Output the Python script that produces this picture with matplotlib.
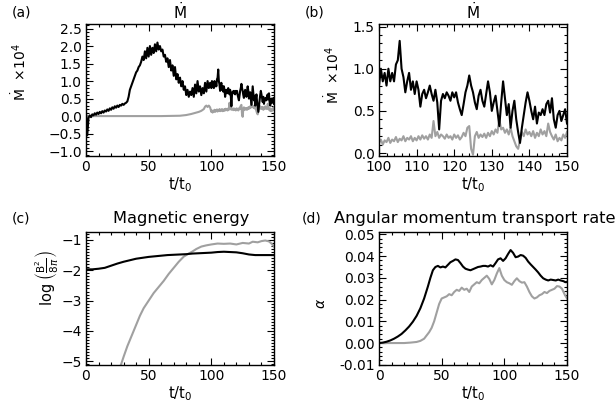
import numpy as np
import matplotlib
matplotlib.use('Agg')
import matplotlib.pyplot as plt
from matplotlib.ticker import MultipleLocator

# ---- accretion rate, t = 0..99 (black) ----
t_mdot_early = np.arange(0, 100, 1.0)
mdot_black_early = [0.10, -0.55, -0.05, 0.02, -0.03, 0.05, 0.02, 0.08, 0.04, 0.10,
                    0.06, 0.12, 0.08, 0.14, 0.10, 0.16, 0.13, 0.19, 0.15, 0.22,
                    0.18, 0.25, 0.21, 0.28, 0.24, 0.30, 0.26, 0.32, 0.30, 0.35,
                    0.32, 0.36, 0.38, 0.42, 0.55, 0.75, 0.85, 0.95, 1.05, 1.15,
                    1.25, 1.30, 1.40, 1.45, 1.55, 1.70, 1.60, 1.85, 1.65, 1.95,
                    1.70, 2.00, 1.75, 1.95, 1.80, 2.05, 1.85, 2.10, 1.90, 2.00,
                    1.85, 1.90, 1.70, 1.75, 1.55, 1.65, 1.40, 1.60, 1.30, 1.45,
                    1.15, 1.40, 1.05, 1.20, 0.95, 1.10, 0.85, 1.00, 0.75, 0.85,
                    0.60, 0.75, 0.55, 0.70, 0.60, 0.80, 0.55, 0.90, 0.65, 1.00,
                    0.70, 0.85, 0.60, 0.80, 0.65, 0.95, 0.70, 1.00, 0.80, 0.95]

# grey, t = 0..99
t_mdot_grey_early = [0, 20, 40, 60, 75, 80, 84, 88, 90, 92, 94, 95, 96, 97, 98, 99]
mdot_grey_early = [0, 0, 0, 0, 0.01, 0.03, 0.06, 0.10, 0.12, 0.15, 0.20, 0.27,
                   0.30, 0.26, 0.30, 0.25]

# ---- accretion rate, t = 100..150 ----
t_mdot_late = np.arange(100, 150.01, 0.5)
mdot_black_late = [0.80, 1.00, 0.85, 0.95, 0.80, 1.00, 0.85, 0.95, 0.85, 1.05,
                   1.10, 1.33, 1.00, 0.90, 0.72, 0.85, 0.95, 0.75, 0.85, 0.70,
                   0.85, 0.75, 0.55, 0.70, 0.75, 0.65, 0.72, 0.80, 0.70, 0.62,
                   0.75, 0.60, 0.28, 0.62, 0.70, 0.65, 0.72, 0.68, 0.62, 0.72,
                   0.66, 0.72, 0.60, 0.52, 0.45, 0.58, 0.72, 0.80, 0.92, 0.80,
                   0.72, 0.60, 0.52, 0.68, 0.75, 0.62, 0.55, 0.70, 0.85, 0.72,
                   0.50, 0.60, 0.68, 0.50, 0.32, 0.60, 0.85, 0.65, 0.45, 0.58,
                   0.30, 0.50, 0.62, 0.40, 0.25, 0.12, 0.30, 0.45, 0.60, 0.72,
                   0.62, 0.50, 0.40, 0.55, 0.35, 0.48, 0.45, 0.52, 0.45, 0.58,
                   0.62, 0.48, 0.65, 0.40, 0.30, 0.45, 0.50, 0.38, 0.45, 0.52,
                   0.35]
mdot_grey_late = [0.12, 0.16, 0.10, 0.15, 0.13, 0.18, 0.12, 0.16, 0.14, 0.19,
                  0.13, 0.17, 0.15, 0.20, 0.14, 0.18, 0.16, 0.20, 0.14, 0.18,
                  0.15, 0.20, 0.16, 0.21, 0.17, 0.20, 0.16, 0.22, 0.18, 0.38,
                  0.20, 0.25, 0.18, 0.22, 0.20, 0.17, 0.22, 0.18, 0.20, 0.16,
                  0.22, 0.18, 0.21, 0.16, 0.19, 0.24, 0.20, 0.30, 0.32, 0.05,
                  -0.02, 0.20, 0.25, 0.18, 0.22, 0.19, 0.23, 0.18, 0.24, 0.20,
                  0.26, 0.22, 0.28, 0.24, 0.40, 0.28, 0.30, 0.24, 0.28, 0.22,
                  0.30, 0.20, 0.14, 0.08, 0.05, 0.15, 0.25, 0.20, 0.28, 0.22,
                  0.25, 0.20, 0.26, 0.18, 0.24, 0.20, 0.28, 0.22, 0.26, 0.20,
                  0.35, 0.25, 0.20, 0.16, 0.22, 0.14, 0.18, 0.15, 0.22, 0.18,
                  0.25]

# ---- magnetic energy ----
t_emag_black = [0, 5, 10, 15, 20, 25, 30, 35, 40, 45, 50, 55, 60, 65, 70, 75, 80,
                85, 90, 95, 100, 105, 110, 115, 120, 125, 130, 135, 140, 145, 150]
emag_black = [-1.97, -1.97, -1.95, -1.92, -1.85, -1.78, -1.72, -1.67, -1.62,
              -1.59, -1.56, -1.54, -1.52, -1.50, -1.49, -1.48, -1.47, -1.45,
              -1.44, -1.43, -1.42, -1.40, -1.39, -1.40, -1.41, -1.44, -1.48,
              -1.50, -1.50, -1.50, -1.50]
t_emag_grey = [27, 28, 30, 33, 36, 40, 43, 46, 50, 54, 58, 62, 66, 70, 74, 78,
               82, 85, 88, 92, 96, 100, 105, 110, 115, 120, 125, 130, 133, 137,
               140, 143, 146, 148, 150]
emag_grey = [-5.2, -5.1, -4.85, -4.5, -4.2, -3.8, -3.5, -3.25, -3.0, -2.75,
             -2.55, -2.35, -2.12, -1.92, -1.72, -1.55, -1.45, -1.38, -1.30,
             -1.22, -1.18, -1.15, -1.12, -1.13, -1.12, -1.15, -1.10, -1.12,
             -1.06, -1.08, -1.04, -1.02, -1.05, -1.12, -1.22]

# ---- alpha ----
t_alpha_black = [0, 3, 6, 9, 12, 15, 18, 21, 24, 27, 30, 33, 36, 39, 41, 43, 45,
                 47, 49, 51, 53, 55, 57, 59, 61, 63, 65, 67, 69, 71, 73, 75, 77,
                 79, 81, 83, 85, 87, 89, 91, 93, 95, 97, 99, 101, 103, 105, 107,
                 109, 111, 113, 115, 117, 119, 121, 123, 125, 127, 129, 131, 133,
                 135, 137, 139, 141, 143, 145, 147, 149, 150]
alpha_black = [0.000, 0.0002, 0.0006, 0.0012, 0.002, 0.003, 0.0042, 0.0058,
               0.0076, 0.0098, 0.0125, 0.016, 0.0205, 0.026, 0.030, 0.0335,
               0.035, 0.0355, 0.0348, 0.0352, 0.0348, 0.036, 0.0372, 0.0378,
               0.0385, 0.0382, 0.0368, 0.0352, 0.0342, 0.0338, 0.0335, 0.034,
               0.0345, 0.035, 0.0352, 0.0355, 0.0355, 0.0352, 0.0358, 0.0352,
               0.0368, 0.0385, 0.039, 0.0378, 0.039, 0.041, 0.0428, 0.0415,
               0.0395, 0.0398, 0.0405, 0.0402, 0.0392, 0.0375, 0.0362, 0.035,
               0.0338, 0.0325, 0.031, 0.0298, 0.0292, 0.0288, 0.0292, 0.029,
               0.0288, 0.0292, 0.0288, 0.0285, 0.028, 0.0282]
t_alpha_grey = [0, 10, 20, 25, 30, 33, 36, 38, 40, 42, 44, 46, 48, 50, 52, 54,
                56, 58, 60, 62, 64, 66, 68, 70, 72, 74, 76, 78, 80, 82, 84, 86,
                88, 90, 92, 94, 96, 98, 100, 102, 104, 106, 108, 110, 112, 114,
                116, 118, 120, 122, 124, 126, 128, 130, 132, 134, 136, 138, 140,
                142, 144, 146, 148, 150]
alpha_grey = [0, 0, 0, 0.0002, 0.0005, 0.001, 0.002, 0.0035, 0.005, 0.007,
              0.010, 0.014, 0.018, 0.0205, 0.021, 0.0215, 0.0225, 0.022, 0.0235,
              0.0245, 0.024, 0.0255, 0.0245, 0.025, 0.0235, 0.026, 0.027, 0.028,
              0.0275, 0.029, 0.030, 0.031, 0.0295, 0.027, 0.029, 0.032, 0.0345,
              0.031, 0.029, 0.028, 0.0275, 0.0268, 0.0285, 0.0298, 0.0285,
              0.0278, 0.028, 0.026, 0.0235, 0.0215, 0.0205, 0.021, 0.022,
              0.0225, 0.0235, 0.023, 0.024, 0.0245, 0.025, 0.0262, 0.026, 0.025,
              0.0225, 0.0205]

t_black_all = np.concatenate([t_mdot_early, t_mdot_late])
mdot_black_all = np.concatenate([mdot_black_early, mdot_black_late])
t_grey_all = np.concatenate([t_mdot_grey_early, t_mdot_late])
mdot_grey_all = np.concatenate([mdot_grey_early, mdot_grey_late])

plt.rcParams['font.family'] = 'DejaVu Sans'
W, H = 616, 411
fig = plt.figure(figsize=(W / 100, H / 100), dpi=100)

GREY = '#a0a0a0'
LW = 1.5


def px_axes(left, top, right, bottom):
    return fig.add_axes([left / W, 1 - bottom / H, (right - left) / W, (bottom - top) / H])


def idl_style(ax, xmaj, xmin, ymaj, ymin):
    ax.xaxis.set_major_locator(MultipleLocator(xmaj))
    ax.xaxis.set_minor_locator(MultipleLocator(xmin))
    ax.yaxis.set_major_locator(MultipleLocator(ymaj))
    ax.yaxis.set_minor_locator(MultipleLocator(ymin))
    ax.tick_params(which='both', direction='in', top=True, right=True, labelsize=10,
                   width=0.8, pad=3)
    ax.tick_params(which='major', length=5)
    ax.tick_params(which='minor', length=2.5)
    for s in ax.spines.values():
        s.set_linewidth(1.0)


def ftext(x, y, s, **kw):
    fig.text(x / W, 1 - y / H, s, **kw)


# (a)
ax = px_axes(86, 24, 274, 156)
ax.plot(t_grey_all, mdot_grey_all, color=GREY, lw=LW)
ax.plot(t_black_all, mdot_black_all, color='black', lw=LW)
ax.set_xlim(0, 150)
ax.set_ylim(-1.14, 2.63)
idl_style(ax, 50, 10, 0.5, 0.1)
ax.set_xlabel('t/t$_0$', fontsize=10.5, labelpad=1)

# (b)
ax = px_axes(379, 24, 567, 156)
ax.plot(t_mdot_late, mdot_grey_late, color=GREY, lw=LW)
ax.plot(t_mdot_late, mdot_black_late, color='black', lw=LW)
ax.set_xlim(100, 150)
ax.set_ylim(-0.035, 1.53)
idl_style(ax, 10, 2, 0.5, 0.1)
ax.set_xlabel('t/t$_0$', fontsize=10.5, labelpad=1)

# (c)
ax = px_axes(86, 232, 274, 365)
ax.plot(t_emag_grey, emag_grey, color=GREY, lw=LW)
ax.plot(t_emag_black, emag_black, color='black', lw=LW)
ax.set_xlim(0, 150)
ax.set_ylim(-5.12, -0.74)
idl_style(ax, 50, 10, 1, 0.1)
ax.set_xlabel('t/t$_0$', fontsize=10.5, labelpad=1)

# (d)
ax = px_axes(379, 232, 567, 365)
ax.plot(t_alpha_grey, alpha_grey, color=GREY, lw=LW)
ax.plot(t_alpha_black, alpha_black, color='black', lw=LW)
ax.set_xlim(0, 150)
ax.set_ylim(-0.0101, 0.0511)
idl_style(ax, 50, 10, 0.01, 0.002)
ax.yaxis.set_major_formatter(matplotlib.ticker.FormatStrFormatter('%.2f'))
ax.set_xlabel('t/t$_0$', fontsize=10.5, labelpad=1)

# titles, panel tags, y labels
ftext(12, 12, '(a)', fontsize=10, va='center')
ftext(305, 12, '(b)', fontsize=10, va='center')
ftext(12, 218, '(c)', fontsize=10, va='center')
ftext(302, 218, '(d)', fontsize=10, va='center')
ftext(180, 12, r'$\dot{\mathrm{M}}$', fontsize=11, ha='center', va='center')
ftext(473, 12, r'$\dot{\mathrm{M}}$', fontsize=11, ha='center', va='center')
ftext(181, 218, 'Magnetic energy', fontsize=11.7, ha='center', va='center')
ftext(475, 218, 'Angular momentum transport rate', fontsize=11.7, ha='center', va='center')
ftext(20, 72, r'$\dot{\mathrm{M}}$  $\times10^{4}$', fontsize=10, rotation=90,
      ha='center', va='center')
ftext(333, 75, r'$\dot{\mathrm{M}}$  $\times10^{4}$', fontsize=10, rotation=90,
      ha='center', va='center')
ftext(47, 278, r'log $\left(\frac{\mathrm{B}^2}{8\pi}\right)$', fontsize=10.5,
      rotation=90, ha='center', va='center')
ftext(321, 304, r'$\alpha$', fontsize=10, rotation=90, ha='center', va='center')

fig.savefig('out.png', dpi=100, facecolor='white')
